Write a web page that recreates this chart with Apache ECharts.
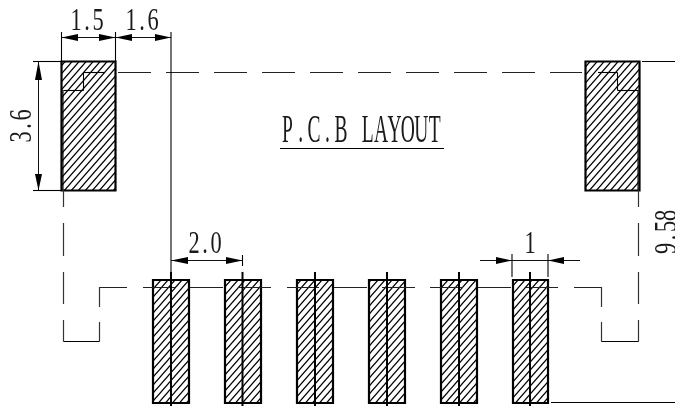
<!DOCTYPE html>
<html><head><meta charset="utf-8">
<style>html,body{margin:0;padding:0;background:#fff}#c{width:675px;height:406px}</style>
<script src="https://cdn.jsdelivr.net/npm/echarts@6/dist/echarts.min.js"></script>
</head><body><div id="c"></div>
<script>
// Drawing units on both axes; pads as [x0, y0, x1, y1]
const padRects = [
  [61.5,61.5,115.5,190.5],[585.5,61.5,639.5,190.5],
  [153,280,189,403],[225,280,261,403],[297,280,333,403],
  [369,280,405,403],[441,280,477,403],[513,280,548,403]
];
// Centre lines of the pads [x, yTop, x, yBottom]
const padCentreLines = [
  [171,272,171,406],[242.5,272,242.5,406],[315,272,315,406],
  [387,272,387,406],[459,272,459,406],[530,272,530,406]
];
// Long-dash outline, top edge
const topDashes = [
  [118,72.5,151,72.5],[166,72.5,199,72.5],[214,72.5,247,72.5],[262,72.5,295,72.5],[310,72.5,343,72.5],
  [358,72.5,391,72.5],[406,72.5,439,72.5],[454,72.5,487,72.5],[502,72.5,535,72.5],[550,72.5,582,72.5]
];
// Long-dash outline, row across the lower pads
const lowerDashes = [
  [99,287.5,127,287.5],[143,287.5,175,287.5],[190,287.5,223,287.5],[238,287.5,271,287.5],[287,287.5,319,287.5],
  [334,287.5,367,287.5],[382,287.5,415,287.5],[430,287.5,463,287.5],[478,287.5,511,287.5],[526,287.5,558,287.5],
  [574,287.5,602,287.5]
];
// Long-dash outline, side walls and feet
const sideDashes = [
  [63.5,190,63.5,207],[63.5,223,63.5,256],[63.5,272,63.5,304],[63.5,320,63.5,341.5],
  [99.5,287,99.5,307],[99.5,322,99.5,341.5],
  [601.5,287,601.5,307],[601.5,322,601.5,341.5],
  [638.5,190,638.5,207],[638.5,223,638.5,256],[638.5,272,638.5,304],[638.5,320,638.5,341.5]
];
// Thin solid lines: feet, pad notches, extension lines
const solidLines = [
  [63.5,341.5,99.5,341.5],[601.5,341.5,638.5,341.5],
  [63.5,90.5,83.5,90.5],[83.5,72.5,83.5,90.5],[83.5,72.5,104,72.5],[63,90,63,190],
  [598,72.5,617.5,72.5],[617.5,72.5,617.5,90.5],[617.5,90.5,638,90.5],[638,90,638,190],
  [642,61.5,675,61.5],[551,402.5,675,402.5],
  [61.5,32,61.5,61],[115.5,32,115.5,61],[33,61.5,61,61.5],[33,190.5,61,190.5],
  [171,32,171,272],[242.5,255,242.5,266],[512,254,512,277],[548,254,548,277],
  [280,148.5,444,148.5]
];
// Dimension lines
const dimLines = [
  [61.5,37.5,171,37.5],[38.5,61.5,38.5,190.5],[171,260.5,242.5,260.5],[480,260.5,580,260.5]
];
// Arrowheads [tipX, tipY, tailX, tailY]
const arrows = [
  [61.5,37.5,78,37.5],[115.5,37.5,99,37.5],[115.5,37.5,132,37.5],[171,37.5,155,37.5],
  [38.5,61.5,38.5,80],[38.5,190.5,38.5,174],
  [171,260.5,188,260.5],[242.5,260.5,226,260.5],
  [512,260.5,496,260.5],[548,260.5,564,260.5]
];
const dimText = ['1.5','1.6','3.6','2.0','1','9.58'];
const dimAnchor = [[87,38,0],[142,38,0],[39,126,1],[205,261,0],[530,261,0],[684,232,1]];
const titleText = ['P.C.B LAYOUT'];
const titleAnchor = [[361,151,0]];

function hatch(){
  const w=7,h=8,c=document.createElement('canvas');c.width=w;c.height=h;
  const g=c.getContext('2d');g.strokeStyle='#000';g.lineWidth=1.2;
  g.beginPath();
  g.moveTo(-1.75,h+2);g.lineTo(w+1.75,-2);
  g.moveTo(-1.75-w,h+2);g.lineTo(1.75,-2);
  g.moveTo(-1.75+w,h+2);g.lineTo(w+w+1.75,-2);
  g.stroke();
  return c;
}
const pattern={image:hatch(),repeat:'repeat'};

function lineSeries(data,stroke,width){
  return {type:'custom',coordinateSystem:'cartesian2d',data,silent:true,clip:false,
    renderItem(p,api){
      const a=api.coord([api.value(0),api.value(1)]),b=api.coord([api.value(2),api.value(3)]);
      return {type:'line',shape:{x1:a[0],y1:a[1],x2:b[0],y2:b[1]},style:{stroke,lineWidth:width}};
    }};
}
// Each character sits in a fixed-width cell, like the drawing's half-width font
function textSeries(texts,anchors,size,sx,adv){
  return {type:'custom',coordinateSystem:'cartesian2d',data:anchors,silent:true,clip:false,
    renderItem(p,api){
      const a=api.coord([api.value(0),api.value(1)]),chars=texts[p.dataIndex].split('');
      const x0=-(chars.length-1)*adv/2;
      return {type:'group',x:a[0],y:a[1],rotation:api.value(2)?Math.PI/2:0,
        children:chars.map((ch,i)=>({type:'text',x:x0+i*adv,y:0,scaleX:sx,scaleY:1,
          style:{text:ch,fontFamily:'Liberation Serif',fontSize:size,fill:'#1a1a1a',textAlign:'center',textVerticalAlign:'bottom'}}))};
    }};
}
const chart=echarts.init(document.getElementById('c'),null,{renderer:'canvas'});
chart.setOption({
  animation:false,
  grid:{left:0,right:0,top:0,bottom:0},
  xAxis:{type:'value',min:0,max:675,show:false},
  yAxis:{type:'value',min:0,max:406,inverse:true,show:false},
  series:[
    {type:'custom',coordinateSystem:'cartesian2d',data:padRects,silent:true,clip:false,
      renderItem(p,api){
        const a=api.coord([api.value(0),api.value(1)]),b=api.coord([api.value(2),api.value(3)]);
        return {type:'rect',shape:{x:a[0],y:a[1],width:b[0]-a[0],height:b[1]-a[1]},
          style:{fill:pattern,stroke:'#000',lineWidth:2.2}};
      }},
    lineSeries(topDashes,'#222',1),
    lineSeries(lowerDashes,'#222',1),
    lineSeries(sideDashes,'#333',1.2),
    lineSeries(solidLines,'#000',1.1),
    lineSeries(padCentreLines,'#000',2),
    lineSeries(dimLines,'#111',1),
    {type:'custom',coordinateSystem:'cartesian2d',data:arrows,silent:true,clip:false,
      renderItem(p,api){
        const t=api.coord([api.value(0),api.value(1)]),e=api.coord([api.value(2),api.value(3)]);
        const dx=e[0]-t[0],dy=e[1]-t[1],l=Math.hypot(dx,dy),w=3.5;
        const nx=-dy/l*w,ny=dx/l*w;
        return {type:'polygon',shape:{points:[t,[e[0]+nx,e[1]+ny],[e[0]-nx,e[1]-ny]]},style:{fill:'#000'}};
      }},
    textSeries(dimText,dimAnchor,32,0.7,11),
    textSeries(titleText,titleAnchor,39,0.5,13.4)
  ]
});
</script></body></html>
